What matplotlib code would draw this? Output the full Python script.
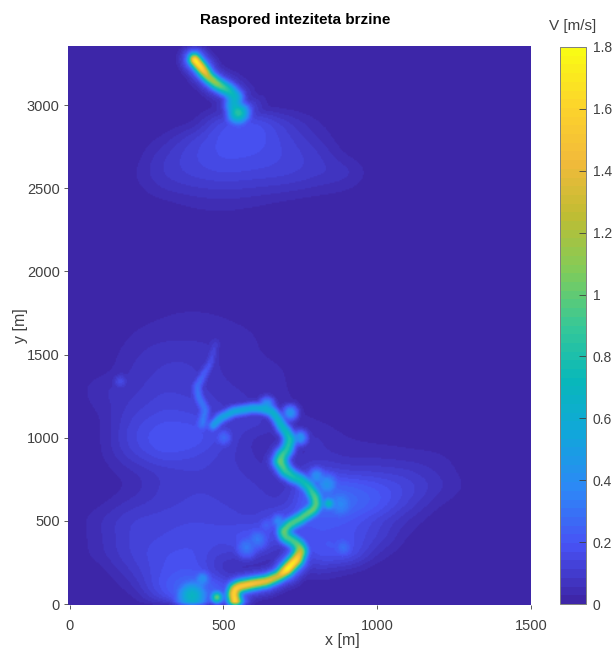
import numpy as np
import matplotlib
matplotlib.use("Agg")
import matplotlib.pyplot as plt
from matplotlib.colors import LinearSegmentedColormap

plt.rcParams['font.family'] = ['Liberation Sans', 'DejaVu Sans']

# coarse background speed, columns are x = 0,100..1500
grid_x = np.arange(0, 1600, 100)
grid_y = np.array([0, 100, 200, 300, 400, 500, 600, 700, 800, 900, 1000, 1100, 1200, 1300, 1400, 1500,
                   1600, 1700, 1800, 1900, 2000, 2100, 2200, 2300, 2400, 2500, 2600, 2700, 2800, 2900, 3000])
row_0 = [0, 0, 0, .1, .32, .2, .02, 0, 0, 0, 0, 0, 0, 0, 0, 0]
row_100 = [0, 0, .04, .2, .32, .22, .02, 0, 0, 0, 0, 0, 0, 0, 0, 0]
row_200 = [0, .01, .09, .17, .2, .04, .02, 0, .08, .03, 0, 0, 0, 0, 0, 0]
row_300 = [0, .05, .12, .17, .18, .1, .12, .03, .2, .22, .05, 0, 0, 0, 0, 0]
row_400 = [0, .05, .12, .14, .16, .16, .24, .12, .2, .18, .12, .02, 0, 0, 0, 0]
row_500 = [0, .06, .12, .13, .14, .13, .1, .22, .2, .2, .12, .05, 0, 0, 0, 0]
row_600 = [0, .02, .07, .1, .12, .11, .1, .08, .3, .3, .22, .11, .03, 0, 0, 0]
row_700 = [0, 0, .03, .09, .11, .11, .09, .06, .28, .25, .2, .14, .07, .02, 0, 0]
row_800 = [0, .01, .05, .09, .11, .1, .07, .04, .14, .1, .1, .09, .05, .01, 0, 0]
row_900 = [0, .02, .11, .18, .15, .1, .05, .03, .06, .04, .04, .03, .03, .01, 0, 0]
row_1000 = [0, .02, .14, .21, .21, .13, .04, .04, .07, .03, .02, .02, .01, 0, 0, 0]
row_1100 = [0, .02, .12, .17, .16, .1, .12, .05, .03, 0, 0, 0, 0, 0, 0, 0]
row_1200 = [0, .04, .09, .13, .12, .08, .05, .04, 0, 0, 0, 0, 0, 0, 0, 0]
row_1300 = [0, .06, .07, .11, .1, .06, .05, .03, 0, .01, .02, .01, 0, 0, 0, 0]
row_1400 = [0, .01, .06, .09, .09, .05, .04, .03, 0, 0, .02, .02, 0, 0, 0, 0]
row_1500 = [0, 0, .05, .08, .08, .05, .03, .02, 0, 0, 0, 0, 0, 0, 0, 0]
row_1600 = [0, 0, .03, .05, .05, .05, .03, .01, 0, 0, 0, 0, 0, 0, 0, 0]
row_1700 = [0, 0, .02, .03, .04, .03, .02, 0, 0, 0, 0, 0, 0, 0, 0, 0]
row_1800 = [0, 0, 0, .02, .02, .02, 0, 0, 0, 0, 0, 0, 0, 0, 0, 0]
row_1900 = [0, 0, .01, .03, .02, .01, 0, 0, 0, 0, 0, 0, 0, 0, 0, 0]
row_2000 = [0, 0, .02, .03, .01, 0, 0, 0, 0, 0, 0, 0, 0, 0, 0, 0]
row_2100 = [0] * 16
row_2200 = [0] * 16
row_2300 = [0, 0, 0, 0, .01, .01, 0, 0, 0, 0, 0, 0, 0, 0, 0, 0]
row_2400 = [0, 0, 0, .01, .03, .04, .03, .01, 0, 0, 0, 0, 0, 0, 0, 0]
row_2500 = [0, 0, .01, .06, .08, .09, .08, .07, .05, .03, 0, 0, 0, 0, 0, 0]
row_2600 = [0, 0, .02, .09, .13, .15, .14, .13, .1, .08, 0, 0, 0, 0, 0, 0]
row_2700 = [0, 0, 0, .08, .14, .18, .17, .14, .1, .02, 0, 0, 0, 0, 0, 0]
row_2800 = [0, 0, 0, .03, .12, .19, .2, .13, .06, 0, 0, 0, 0, 0, 0, 0]
row_2900 = [0, 0, 0, 0, .01, .18, .2, .1, .03, 0, 0, 0, 0, 0, 0, 0]
row_3000 = [0] * 16
grid_v = np.array([row_0, row_100, row_200, row_300, row_400, row_500, row_600, row_700, row_800,
                   row_900, row_1000, row_1100, row_1200, row_1300, row_1400, row_1500, row_1600,
                   row_1700, row_1800, row_1900, row_2000, row_2100, row_2200, row_2300, row_2400,
                   row_2500, row_2600, row_2700, row_2800, row_2900, row_3000])

# main channel, bottom to the bend near x=465
main_x = [538, 532, 536, 552, 587, 641, 679, 706, 738, 751, 745, 727, 700, 695, 715, 749, 792, 802, 798, 776,
          749, 726, 700, 684, 690, 706, 717, 705, 690, 675, 657, 630, 597, 532, 489, 465]
main_y = [8, 54, 84, 102, 116, 134, 164, 204, 265, 315, 345, 375, 405, 435, 475, 510, 565, 595, 640, 705,
          746, 764, 800, 856, 890, 926, 986, 1030, 1066, 1115, 1156, 1172, 1176, 1156, 1116, 1070]
main_v = [1.75, 1.7, 1.7, 1.7, 1.7, 1.55, 1.45, 1.95, 1.75, 1.35, 1.1, 1.0, 1.05, 1.1, 1.05, 1.05, 1.1, 1.05, 1.05, .85,
          .8, .85, .95, 1.1, 1.0, .9, .88, .8, .75, .72, .7, .68, .65, .65, .6, .55]
main_w = [21, 21, 20, 19, 18, 18, 18, 20, 22, 22, 22, 21, 20, 20, 19, 19, 19, 20, 20, 20,
          20, 20, 21, 22, 21, 20, 19, 18, 18, 17, 17, 16, 15, 15, 15, 15]

# upper stream coming in from the top
top_x = [405, 430, 451, 478, 516, 538, 532, 547]
top_y = [3277, 3221, 3171, 3131, 3091, 3050, 3000, 2957]
top_v = [1.95, 1.75, 1.35, 1.2, .85, .7, .65, .9]
top_w = [18, 19, 19, 20, 23, 26, 28, 36]

# thin tributary on the left
trib_x = [473, 457, 413, 418, 440, 430]
trib_y = [1569, 1449, 1307, 1245, 1167, 1076]
trib_v = [.12, .2, .32, .35, .35, .35]
trib_w = [12, 13, 15, 15, 16, 20]

# isolated spots next to the channel
spot_x = [430, 478, 397, 575, 610, 678, 842, 890, 836, 717, 749, 803, 641, 500, 164, 880, 640]
spot_y = [144, 36, 44, 340, 385, 495, 601, 337, 716, 1148, 998, 765, 1197, 998, 1337, 600, 470]
spot_v = [.45, 1.25, .7, .33, .33, .42, .9, .3, .45, .5, .5, .45, .5, .28, .18, .38, .25]
spot_w = [30, 17, 52, 42, 42, 26, 17, 36, 42, 24, 24, 30, 24, 30, 22, 60, 32]

x_ticks = [0, 500, 1000, 1500]
y_ticks = [0, 500, 1000, 1500, 2000, 2500, 3000]
cb_ticks = [0, .2, .4, .6, .8, 1, 1.2, 1.4, 1.6, 1.8]
cb_labels = ['0', '0.2', '0.4', '0.6', '0.8', '1', '1.2', '1.4', '1.6', '1.8']

parula_colors = [(0.2422, 0.1504, 0.6603), (0.2810, 0.3228, 0.9579), (0.1786, 0.5289, 0.9682),
                 (0.0689, 0.6500, 0.8600), (0.0300, 0.7200, 0.7300), (0.2161, 0.7843, 0.5923),
                 (0.5044, 0.7993, 0.3480), (0.7500, 0.7400, 0.2000), (0.9500, 0.7300, 0.2300),
                 (0.9900, 0.8300, 0.1700), (0.9769, 0.9839, 0.0805)]
parula = LinearSegmentedColormap.from_list('parula', parula_colors, N=64)

# fine grid for the picture
xf = np.arange(-5, 1501, 4.0)
yf = np.arange(-6, 3357, 8.0)
Y_SCALE = 0.54  # pixels per unit differ between x and y


def blur(field, nx, ny):
    kx = np.ones(nx) / nx
    ky = np.ones(ny) / ny
    field = np.apply_along_axis(lambda r: np.convolve(r, kx, mode='same'), 1, field)
    return np.apply_along_axis(lambda c: np.convolve(c, ky, mode='same'), 0, field)


def upsample(v):
    by_x = np.array([np.interp(xf, grid_x, r) for r in v])
    out = np.array([np.interp(yf, grid_y, c, right=0) for c in by_x.T]).T
    # soften the grid edges
    return blur(blur(out, 15, 11), 15, 11)


def add_channel(field, cx, cy, cv, cw):
    gx, gy = np.meshgrid(xf, yf)
    for i in range(len(cx) - 1):
        ax_, ay_ = cx[i], cy[i] * Y_SCALE
        dx, dy = cx[i + 1] - ax_, (cy[i + 1] - cy[i]) * Y_SCALE
        t = ((gx - ax_) * dx + (gy * Y_SCALE - ay_) * dy) / (dx * dx + dy * dy)
        t = np.clip(t, 0, 1)
        d2 = (gx - ax_ - t * dx) ** 2 + (gy * Y_SCALE - ay_ - t * dy) ** 2
        w = cw[i] + t * (cw[i + 1] - cw[i])
        v = cv[i] + t * (cv[i + 1] - cv[i])
        field = np.maximum(field, v * np.exp(-d2 / (w * w)))
        # faint halo round the channel
        field = np.maximum(field, 0.22 * v * np.exp(-d2 / (4 * w * w)))
    return field


def add_spots(field):
    gx, gy = np.meshgrid(xf, yf)
    for sx, sy, sv, sw in zip(spot_x, spot_y, spot_v, spot_w):
        d2 = (gx - sx) ** 2 + ((gy - sy) * Y_SCALE) ** 2
        field = np.maximum(field, sv * np.exp(-d2 / (sw * sw)))
    return field


V = upsample(grid_v)
V = add_channel(V, main_x, main_y, main_v, main_w)
V = add_channel(V, top_x, top_y, top_v, top_w)
V = add_channel(V, trib_x, trib_y, trib_v, trib_w)
V = add_spots(V)
V = blur(V, 5, 5)

fig = plt.figure(figsize=(6.15, 6.52), dpi=100)
ax = fig.add_axes([68 / 615, 1 - 605 / 652, 463 / 615, 559 / 652])
im = ax.imshow(V, origin='lower', extent=[xf[0], xf[-1], yf[0], yf[-1]], aspect='auto',
               cmap=parula, vmin=0, vmax=1.8, interpolation='bilinear')
ax.set_xlim(-5, 1500)
ax.set_ylim(-6, 3356)
ax.set_xticks(x_ticks)
ax.set_yticks(y_ticks)
ax.tick_params(labelsize=10.5, length=3, width=0.6, color='#404040', labelcolor='#404040', pad=3)
ax.tick_params(axis='x', pad=7)
for s in ax.spines.values():
    s.set_visible(False)
ax.set_title('Raspored inteziteta brzine', fontsize=11, fontweight='bold', color='black', x=0.49, pad=16)
ax.set_xlabel('x [m]', fontsize=11.5, color='#404040', x=0.592, labelpad=0)
ax.set_ylabel('y [m]', fontsize=11.5, color='#404040', labelpad=-1)

cax = fig.add_axes([560 / 615, 1 - 604 / 652, 26 / 615, 557 / 652])
cb = fig.colorbar(im, cax=cax)
cb.set_ticks(cb_ticks)
cb.set_ticklabels(cb_labels)
cb.ax.tick_params(labelsize=10, direction='in', length=5, width=0.6, color='#404040', labelcolor='#404040', pad=5)
cb.outline.set_edgecolor('#808080')
cb.outline.set_linewidth(0.7)
fig.text(573 / 615, 1 - 26 / 652, 'V [m/s]', fontsize=11, color='#404040', ha='center', va='center')

fig.savefig('out.png', dpi=100)
